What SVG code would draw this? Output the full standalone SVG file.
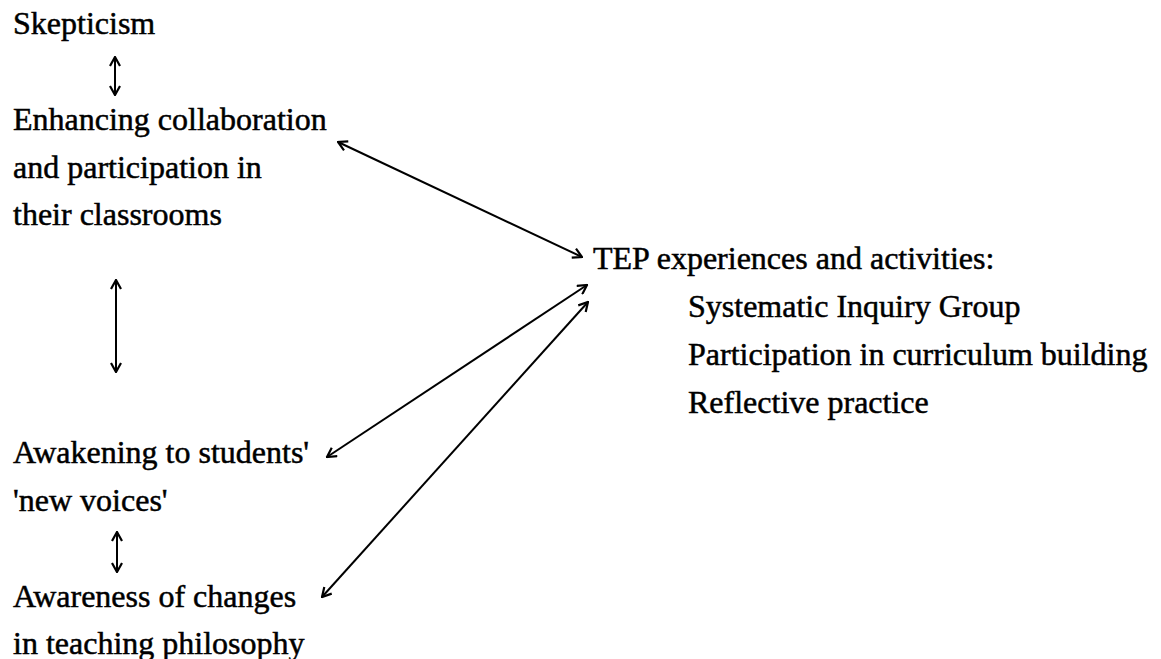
<svg xmlns="http://www.w3.org/2000/svg" width="1161" height="659" viewBox="0 0 1161 659">
<style>
.t{font-family:'Liberation Serif','Times New Roman','DejaVu Serif',serif;font-size:32px;fill:#000;stroke:#000;stroke-width:0.5}
.c{stroke:#000;stroke-width:2;fill:none}
</style>
<defs>
<marker id="ah" viewBox="0 0 12 12" refX="11" refY="6" markerWidth="12" markerHeight="12" markerUnits="userSpaceOnUse" orient="auto-start-reverse">
<path d="M2,1 L11,6 L2,11" fill="none" stroke="#000" stroke-width="2.2"/>
</marker>
</defs>
<rect width="1161" height="659" fill="#fff"/>
<g id="skepticism" class="t"><text x="13" y="34">Skepticism</text></g>
<g id="enhancing" class="t"><text x="13" y="130">Enhancing collaboration</text><text x="13" y="178">and participation in</text><text x="13" y="225">their classrooms</text></g>
<g id="awakening" class="t"><text x="13" y="463">Awakening to students'</text><text x="13" y="511">'new voices'</text></g>
<g id="awareness" class="t"><text x="13" y="607">Awareness of changes</text><text x="13" y="654">in teaching philosophy</text></g>
<g id="tep" class="t"><text x="593" y="269">TEP experiences and activities:</text><text x="688" y="317">Systematic Inquiry Group</text><text x="688" y="365">Participation in curriculum building</text><text x="688" y="413">Reflective practice</text></g>
<g id="connectors">
<line class="c" x1="115" y1="57" x2="115" y2="95" marker-start="url(#ah)" marker-end="url(#ah)"/>
<line class="c" x1="116" y1="280" x2="116" y2="372" marker-start="url(#ah)" marker-end="url(#ah)"/>
<line class="c" x1="117" y1="532" x2="117" y2="572" marker-start="url(#ah)" marker-end="url(#ah)"/>
<line class="c" x1="338" y1="142" x2="582" y2="257" marker-start="url(#ah)" marker-end="url(#ah)"/>
<line class="c" x1="327" y1="457" x2="587" y2="285" marker-start="url(#ah)" marker-end="url(#ah)"/>
<line class="c" x1="322" y1="597" x2="588" y2="302" marker-start="url(#ah)" marker-end="url(#ah)"/>
</g>
</svg>
